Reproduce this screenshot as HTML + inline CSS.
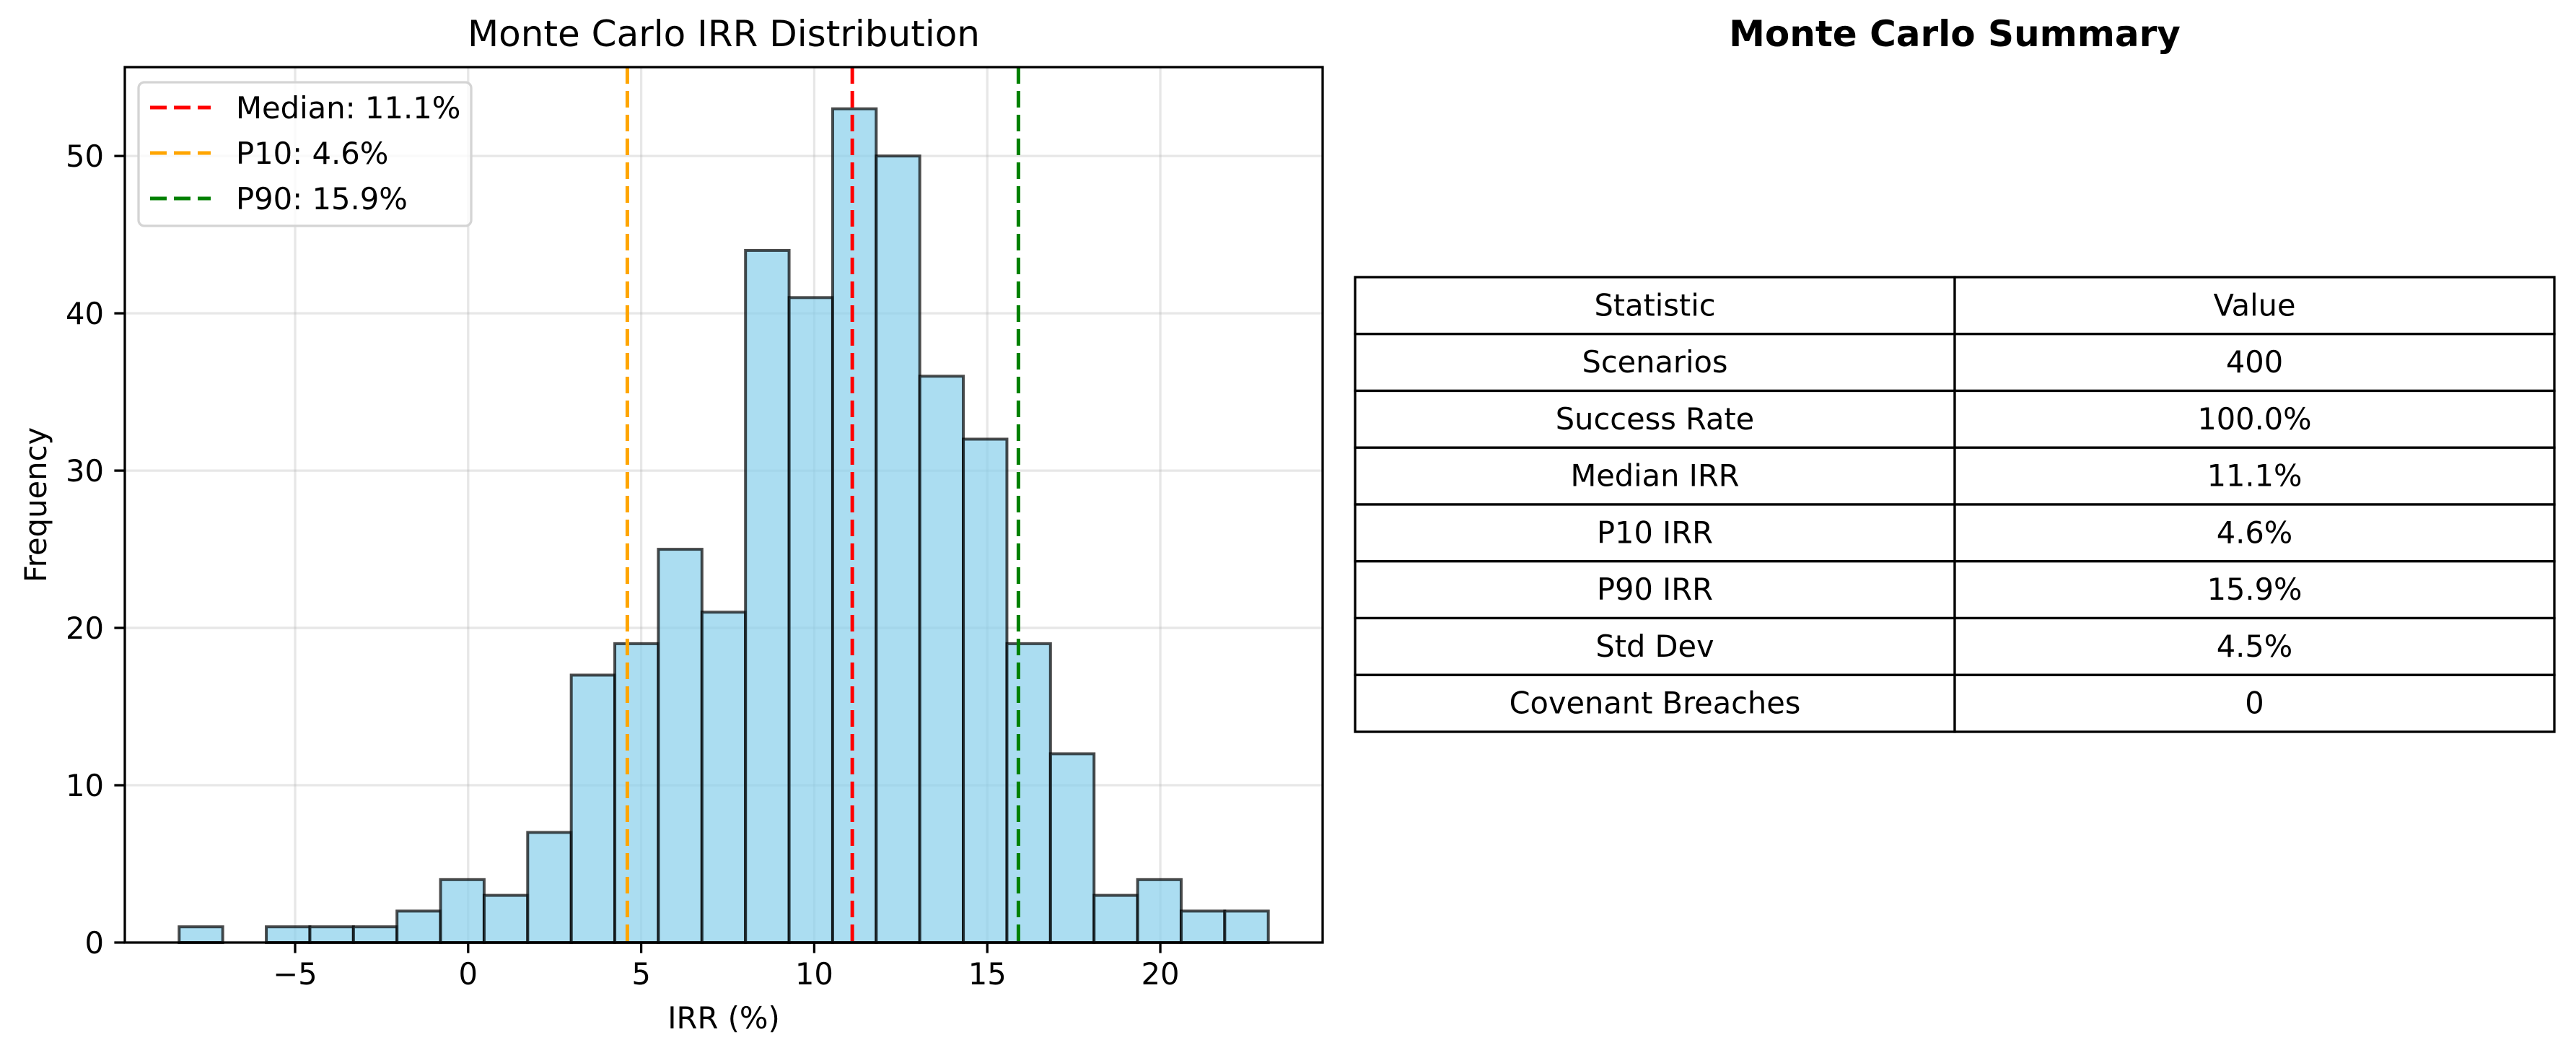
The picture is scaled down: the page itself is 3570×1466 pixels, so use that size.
<!DOCTYPE html>
<html><head><meta charset="utf-8"><style>
html,body{margin:0;padding:0;background:#fff}
svg{display:block}
text{font-family:"DejaVu Sans","Liberation Sans",sans-serif;fill:#000}
</style></head><body>
<svg id="chart" width="3570" height="1466" viewBox="0 0 3570 1466" xmlns="http://www.w3.org/2000/svg">
<g id="hist"></g>
<g id="tbl"></g>
</svg>
<script>
const counts=[1,0,1,1,1,2,4,3,7,17,19,25,21,44,41,53,50,36,32,19,12,3,4,2,2];
const binStart=-8.35;
const binEnd=23.12;
const xTicks=[-5,0,5,10,15,20];
const yTicks=[0,10,20,30,40,50];
const refLines=[
 {label:"Median: 11.1%",value:11.1,color:"#ff0000",name:"median-line"},
 {label:"P10: 4.6%",value:4.6,color:"#ffa500",name:"p10-line"},
 {label:"P90: 15.9%",value:15.9,color:"#008000",name:"p90-line"}];
const tableHeader=["Statistic","Value"];
const tableRows=[["Scenarios","400"],["Success Rate","100.0%"],["Median IRR","11.1%"],["P10 IRR","4.6%"],["P90 IRR","15.9%"],["Std Dev","4.5%"],["Covenant Breaches","0"]];

const NS="http://www.w3.org/2000/svg";
function mk(tag,attrs,parent,txt){const e=document.createElementNS(NS,tag);for(const k in attrs)e.setAttribute(k,attrs[k]);if(txt!==undefined)e.textContent=txt;parent.appendChild(e);return e;}
const L=173,R=1833,T=93,B=1306;
const xMin=-9.92,xMax=24.69,yMin=0,yMax=55.65;
const X=v=>L+(v-xMin)/(xMax-xMin)*(R-L);
const Y=v=>B-(v-yMin)/(yMax-yMin)*(B-T);
const g=document.getElementById('hist');
xTicks.forEach(t=>{const l=mk('line',{x1:X(t),x2:X(t),y1:T,y2:B,stroke:'#b0b0b0','stroke-opacity':0.3,'stroke-width':3.3},g);

});
yTicks.forEach(t=>{const l=mk('line',{x1:L,x2:R,y1:Y(t),y2:Y(t),stroke:'#b0b0b0','stroke-opacity':0.3,'stroke-width':3.3},g);

});
const w=(binEnd-binStart)/counts.length;
counts.forEach((c,i)=>{const x0=X(binStart+i*w),x1=X(binStart+(i+1)*w);
const r=mk('rect',{x:x0,y:Y(c),width:x1-x0,height:Y(0)-Y(c),fill:'rgba(135,206,235,0.7)',stroke:'rgba(0,0,0,0.7)','stroke-width':4},g);

});
refLines.forEach(r=>{const l=mk('line',{x1:X(r.value),x2:X(r.value),y1:T,y2:B,stroke:r.color,'stroke-width':5,'stroke-dasharray':'23 10'},g);

});
const sp=mk('rect',{x:L,y:T,width:R-L,height:B-T,fill:'none',stroke:'#000','stroke-width':3.3},g);


xTicks.forEach(t=>{mk('line',{x1:X(t),x2:X(t),y1:B,y2:B+14.6,stroke:'#000','stroke-width':3.3},g);
const tx=mk('text',{x:X(t),y:B+58,'font-size':41.7,'text-anchor':'middle'},g,t<0?'\u2212'+(-t):String(t));

});
yTicks.forEach(t=>{mk('line',{x1:L-14.6,x2:L,y1:Y(t),y2:Y(t),stroke:'#000','stroke-width':3.3},g);
const tx=mk('text',{x:L-29,y:Y(t)+15,'font-size':41.7,'text-anchor':'end'},g,String(t));

});
const t1=mk('text',{x:(L+R)/2,y:64,'font-size':50,'text-anchor':'middle'},g,'Monte Carlo IRR Distribution');


const xl=mk('text',{x:(L+R)/2,y:1425,'font-size':41.7,'text-anchor':'middle'},g,'IRR (%)');


const yl=mk('text',{x:0,y:0,'font-size':41.7,'text-anchor':'middle',transform:`translate(64,${(T+B)/2}) rotate(-90)`},g,'Frequency');


const lg=mk('g',{},g);


mk('rect',{x:192,y:114,width:461,height:199,rx:8,fill:'rgba(255,255,255,0.8)',stroke:'#d4d4d4','stroke-width':3.3},lg);
refLines.forEach((r,i)=>{const yy=149+i*63;
const e=mk('g',{},lg);


mk('line',{x1:208,x2:292,y1:yy,y2:yy,stroke:r.color,'stroke-width':5,'stroke-dasharray':'23 10'},e);
mk('text',{x:327,y:yy+15,'font-size':41.7},e,r.label);});
const tg=document.getElementById('tbl');
const TL=1878,TR=3540,TT=384,TB=1014,TM=2709;
const rows=[tableHeader].concat(tableRows);
const rh=(TB-TT)/rows.length;
const tt=mk('text',{x:(TL+TR)/2,y:64,'font-size':50,'font-weight':'bold','text-anchor':'middle'},tg,'Monte Carlo Summary');


rows.forEach((row,i)=>{const y0=TT+i*rh;
const rg=mk('g',{},tg);


mk('rect',{x:TL,y:y0,width:TM-TL,height:rh,fill:'#fff',stroke:'#000','stroke-width':3.3},rg);
mk('rect',{x:TM,y:y0,width:TR-TM,height:rh,fill:'#fff',stroke:'#000','stroke-width':3.3},rg);
mk('text',{x:(TL+TM)/2,y:y0+rh/2+14,'font-size':41.5,'text-anchor':'middle'},rg,row[0]);
mk('text',{x:(TM+TR)/2,y:y0+rh/2+14,'font-size':41.5,'text-anchor':'middle'},rg,row[1]);});
</script>
</body></html>
